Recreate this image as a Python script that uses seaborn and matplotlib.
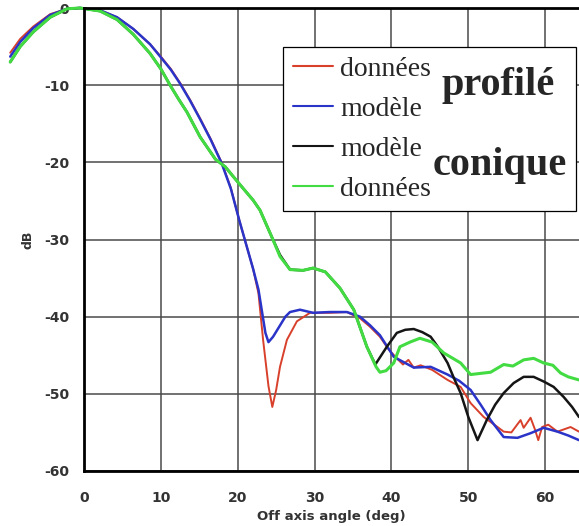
"""
Radiation pattern of a profiled vs. conical horn: measured data against model,
relative level in dB versus off-axis angle.
"""
import numpy as np
import matplotlib
matplotlib.use("Agg")
import matplotlib.pyplot as plt
import seaborn as sns

# profilé : données (mesure) et modèle
red_x = [-9.6, -8.3, -6.6, -4.4, -2.2, -0.5, 2.1, 4.3, 6.4, 8.6, 10.0, 11.3, 12.5, 13.8, 15.1,
         16.5, 17.9, 19.1, 20.2, 21.2, 22.0, 22.7, 23.3, 24.0, 24.5, 25.0, 25.5, 26.4, 27.7, 29.4,
         32.0, 34.2, 35.9, 37.2, 38.5, 39.6, 40.7, 41.5, 42.2, 42.9, 43.8, 45.3, 47.3, 49.0, 50.3,
         52.0, 53.8, 54.6, 55.6, 56.8, 57.2, 58.1, 58.7, 59.1, 59.6, 60.4, 61.6, 63.3, 64.4]
red_y = [-5.8, -4.0, -2.4, -0.8, -0.1, 0.0, -0.3, -1.2, -2.7, -4.7, -6.3, -7.9, -9.7, -11.9, -14.3,
         -17.0, -20.0, -23.3, -27.5, -31.0, -33.8, -37.0, -43.0, -49.0, -51.7, -49.5, -46.5, -43.0, -40.6, -39.5,
         -39.5, -39.4, -40.2, -41.3, -42.6, -44.2, -45.4, -46.2, -45.6, -46.6, -46.3, -46.9, -48.2, -49.1, -51.2,
         -53.0, -54.3, -54.9, -55.0, -53.4, -54.4, -53.1, -54.7, -56.0, -54.3, -54.0, -54.9, -54.3, -54.9]

blue_x = [-9.6, -8.3, -6.6, -4.4, -2.2, -0.5, 2.1, 4.3, 6.4, 8.6, 10.0, 11.3, 12.5, 13.8, 15.1,
          16.5, 17.9, 19.1, 20.2, 21.2, 22.0, 22.7, 23.6, 24.0, 24.6, 25.4, 26.2, 26.8, 28.1, 29.8,
          32.0, 34.2, 35.9, 37.2, 38.5, 40.3, 42.9, 45.1, 47.3, 48.8, 50.3, 51.6, 52.9, 54.6, 56.4,
          58.1, 59.8, 61.6, 63.0, 64.4]
blue_y = [-6.3, -4.4, -2.6, -0.9, -0.1, 0.0, -0.3, -1.2, -2.7, -4.7, -6.4, -8.0, -9.8, -12.0, -14.4,
          -17.1, -20.1, -23.4, -27.5, -31.0, -33.8, -36.5, -42.1, -43.3, -42.6, -41.3, -40.0, -39.4, -39.1, -39.5,
          -39.4, -39.4, -40.0, -41.1, -42.4, -45.2, -46.6, -46.5, -47.5, -48.3, -49.5, -51.4, -53.4, -55.6, -55.7,
          -55.1, -54.4, -54.9, -55.4, -56.0]

# conique : modèle et données (mesure)
black_x = [-9.6, -8.3, -6.6, -4.4, -2.2, -0.5, 2.1, 4.3, 6.4, 8.6, 10.0, 11.2, 12.3, 13.4, 15.1,
           17.1, 18.4, 19.3, 20.3, 22.0, 22.9, 24.4, 25.5, 26.8, 28.5, 29.8, 31.4, 33.3, 35.1, 36.8,
           37.9, 39.4, 40.7, 41.8, 42.9, 44.0, 45.1, 46.1, 47.3, 48.1, 49.0, 50.0, 51.2, 51.8, 52.4,
           53.5, 54.6, 55.9, 57.2, 58.5, 59.8, 61.1, 62.4, 63.5, 64.4]
black_y = [-7.0, -5.0, -3.1, -1.2, -0.1, 0.0, -0.4, -1.5, -3.4, -5.9, -7.9, -10.0, -11.8, -13.5, -16.7,
           -19.6, -20.6, -21.7, -22.9, -24.9, -26.2, -29.6, -32.0, -33.9, -34.0, -33.7, -34.2, -36.3, -39.1, -43.9,
           -46.2, -43.9, -42.1, -41.7, -41.6, -42.0, -42.6, -44.0, -46.0, -47.9, -49.9, -53.0, -56.0, -54.7, -53.4,
           -51.4, -49.9, -48.6, -47.8, -47.8, -48.4, -49.1, -50.4, -51.7, -53.0]

green_x = [-9.6, -8.3, -6.6, -4.4, -2.2, -0.5, 2.1, 4.3, 6.4, 8.6, 10.0, 11.2, 12.3, 13.4, 15.1,
           17.1, 18.4, 19.3, 20.3, 22.0, 22.9, 24.4, 25.5, 26.8, 28.5, 29.8, 31.4, 33.3, 35.1, 36.8,
           38.0, 38.5, 39.3, 40.3, 41.1, 42.4, 43.7, 45.3, 46.8, 49.0, 50.3, 52.9, 54.6, 55.8, 57.2,
           58.5, 59.8, 61.0, 62.0, 63.0, 64.4]
green_y = [-7.0, -5.0, -3.1, -1.2, -0.1, 0.0, -0.4, -1.5, -3.4, -5.9, -7.9, -10.0, -11.8, -13.5, -16.7,
           -19.6, -20.6, -21.7, -22.9, -24.9, -26.2, -29.6, -32.2, -33.9, -34.0, -33.7, -34.2, -36.3, -39.1, -43.9,
           -46.5, -47.2, -47.0, -46.0, -43.9, -43.3, -42.8, -43.3, -44.7, -46.0, -47.5, -47.2, -46.2, -46.4, -45.6,
           -45.4, -46.0, -46.3, -47.3, -47.8, -48.2]

labels = ["données", "modèle", "modèle", "données"]
colors = ["#d8402c", "#2a34c8", "#151515", "#42dc42"]
widths = [1.4, 1.8, 1.8, 2.2]

sns.set_style("white")
plt.rcParams["axes.unicode_minus"] = False
plt.rcParams["font.family"] = ["DejaVu Sans"]

fig = plt.figure(figsize=(5.79, 5.26), dpi=100)
ax = fig.add_axes([84 / 579, 55 / 526, 495 / 579, 463 / 526])

series = [(red_x, red_y), (blue_x, blue_y), (black_x, black_y), (green_x, green_y)]
for (xs, ys), lab, col, lw in zip(series, labels, colors, widths):
    sns.lineplot(x=xs, y=ys, ax=ax, color=col, linewidth=lw, label=lab,
                 estimator=None, clip_on=False)

ax.set_xlim(0, 64.4)
ax.set_ylim(-60, 0)
ax.set_xticks(np.arange(0, 61, 10))
ax.set_xticks(np.arange(0, 65, 2), minor=True)
ax.set_yticks(np.arange(-60, 1, 10))
ax.set_yticks(np.arange(-60, 1, 2), minor=True)

ax.grid(True, which="major", color="#4a4a4a", linewidth=1.1)
ax.set_axisbelow(True)

for side in ["left", "bottom", "top"]:
    ax.spines[side].set_visible(True)
    ax.spines[side].set_linewidth(2)
    ax.spines[side].set_color("black")
ax.spines["right"].set_visible(False)

ax.tick_params(axis="x", which="major", direction="inout", length=6.5, width=1.5,
               pad=11, labelsize=10, labelcolor="#333333", top=False)
ax.tick_params(axis="x", which="minor", direction="in", length=3, width=1.3, top=False)
ax.tick_params(axis="y", which="major", direction="out", length=5.5, width=1.5,
               pad=5, labelsize=10, labelcolor="#333333", right=False)
ax.tick_params(axis="y", which="minor", direction="out", length=3.5, width=1.3, right=False)
for lbl in ax.get_xticklabels() + ax.get_yticklabels():
    lbl.set_fontweight("bold")

ax.set_xlabel("Off axis angle (deg)", fontsize=9.5, fontweight="bold", color="#333333", labelpad=4)
ax.set_ylabel("dB", fontsize=9, fontweight="bold", color="#333333", labelpad=7)

handles, labs = ax.get_legend_handles_labels()
leg = ax.legend(handles, labs, loc="upper left", bbox_to_anchor=(0.402, 0.566, 0.592, 0.35),
                mode="expand", prop={"family": "Liberation Serif", "size": 20},
                fancybox=False, framealpha=1, edgecolor="black", borderpad=0.35,
                labelspacing=0.52, handlelength=1.45, handletextpad=0.25, borderaxespad=0)
leg.get_frame().set_linewidth(0.9)
for h in leg.get_lines():
    h.set_linewidth(1.5)

ax.text(0.723, 0.832, "profilé", transform=ax.transAxes, family="Liberation Serif",
        fontweight="bold", fontsize=29, va="center", ha="left", zorder=10)
ax.text(0.705, 0.659, "conique", transform=ax.transAxes, family="Liberation Serif",
        fontweight="bold", fontsize=29, va="center", ha="left", zorder=10)

fig.savefig("out.png", dpi=100)
plt.close(fig)
